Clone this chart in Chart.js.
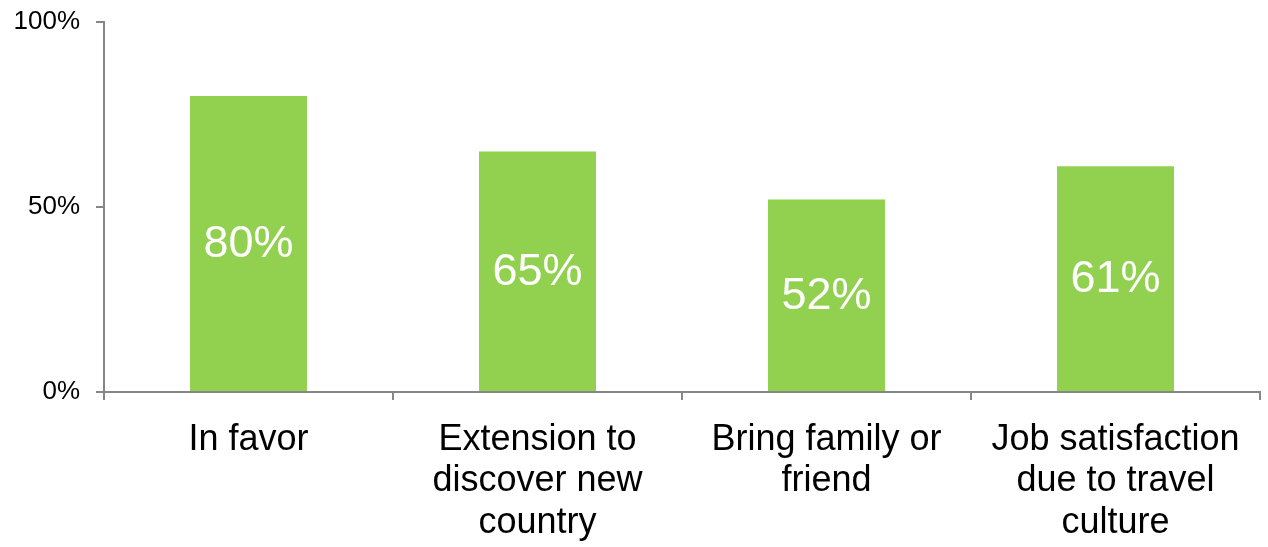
<!DOCTYPE html>
<html>
<head>
<meta charset="utf-8">
<script src="https://cdn.jsdelivr.net/npm/chart.js@4"></script>
<style>
  html, body { margin: 0; padding: 0; background: #ffffff; }
  #wrap { width: 1268px; height: 547px; }
</style>
</head>
<body>
<div id="wrap"><canvas id="chart" width="1268" height="547"></canvas></div>
<script>
// categories (multi-line labels as shown under the axis)
const categories = [
    ['In favor'],
    ['Extension to', 'discover new', 'country'],
    ['Bring family or', 'friend'],
    ['Job satisfaction', 'due to travel', 'culture']
];
// percentages
const values = [80, 65, 52, 61];
const yTicks = [0, 50, 100];

const barGreen = '#92D050';
const axisGrey = '#868686';

// white value label centred inside each bar
const innerLabels = {
    id: 'innerLabels',
    afterDatasetsDraw(chart) {
        const ctx = chart.ctx;
        const meta = chart.getDatasetMeta(0);
        ctx.save();
        ctx.fillStyle = '#ffffff';
        ctx.font = '45px "Liberation Sans", Arial, sans-serif';
        ctx.textAlign = 'center';
        ctx.textBaseline = 'middle';
        meta.data.forEach(function(bar, i) {
            const mid = (bar.y + bar.base) / 2;
            ctx.fillText(values[i] + '%', bar.x, mid + 1);
        });
        ctx.restore();
    }
};

new Chart(document.getElementById('chart').getContext('2d'), {
    type: 'bar',
    data: {
        labels: categories,
        datasets: [{
            data: values,
            backgroundColor: barGreen,
            borderWidth: 0,
            categoryPercentage: 1,
            barPercentage: 0.405
        }]
    },
    options: {
        responsive: false,
        animation: false,
        layout: { padding: { top: 22, right: 8, left: 0, bottom: 0 } },
        plugins: {
            legend: { display: false },
            tooltip: { enabled: false }
        },
        scales: {
            x: {
                grid: {
                    offset: true,
                    drawOnChartArea: false,
                    drawTicks: true,
                    tickLength: 8,
                    color: axisGrey,
                    lineWidth: 2
                },
                border: { color: axisGrey, width: 2 },
                ticks: {
                    color: '#000000',
                    padding: 20,
                    maxRotation: 0,
                    autoSkip: false,
                    font: { family: '"Liberation Sans", Arial, sans-serif', size: 36, lineHeight: 1.14 }
                },
                afterFit(scale) { scale.height = 155; }
            },
            y: {
                min: 0,
                max: 100,
                afterBuildTicks(scale) {
                    scale.ticks = yTicks.map(v => ({ value: v }));
                },
                grid: {
                    drawOnChartArea: false,
                    drawTicks: true,
                    tickLength: 8,
                    color: axisGrey,
                    lineWidth: 2
                },
                border: { color: axisGrey, width: 2 },
                ticks: {
                    color: '#000000',
                    padding: 16,
                    font: { family: '"Liberation Sans", Arial, sans-serif', size: 26 },
                    callback: function(value) { return value + '%'; }
                },
                afterFit(scale) {
                    scale.width = 104;
                    scale.paddingTop = 0;
                    scale.paddingBottom = 0;
                }
            }
        }
    },
    plugins: [innerLabels]
});
</script>
</body>
</html>
